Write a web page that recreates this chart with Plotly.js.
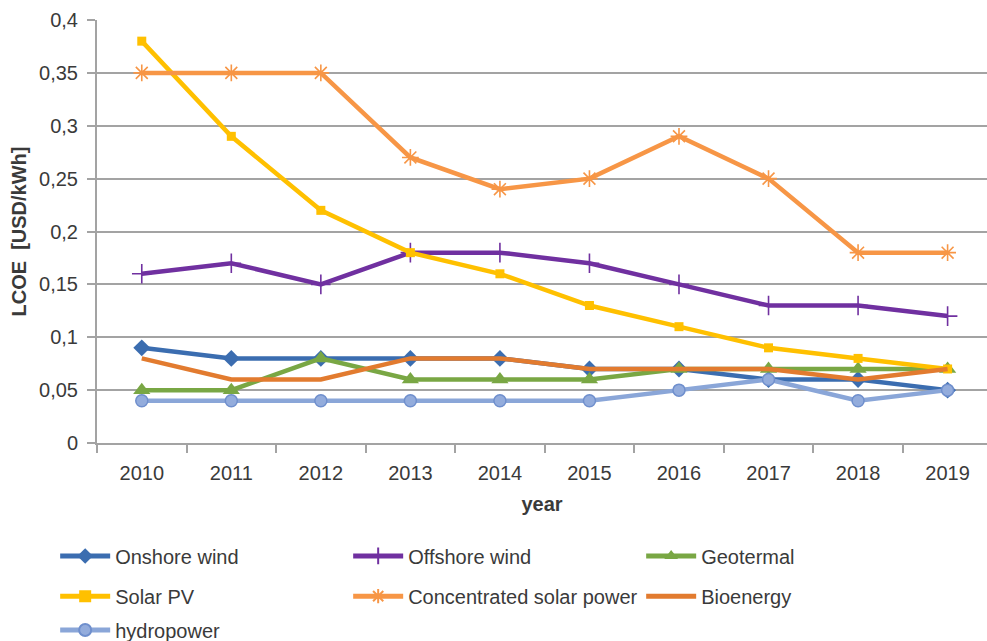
<!DOCTYPE html>
<html>
<head>
<meta charset="utf-8">
<script src="https://cdn.plot.ly/plotly-3.0.1.min.js"></script>
<style>
  html, body { margin: 0; padding: 0; background: #ffffff; }
  #chart { width: 987px; height: 641px; }
</style>
</head>
<body>
<div id="chart"></div>
<script>
// LCOE by technology, 2010-2019
const years = ['2010', '2011', '2012', '2013', '2014', '2015', '2016', '2017', '2018', '2019'];

const onshoreWind   = [0.09, 0.08, 0.08, 0.08, 0.08, 0.07, 0.07, 0.06, 0.06, 0.05];
const offshoreWind  = [0.16, 0.17, 0.15, 0.18, 0.18, 0.17, 0.15, 0.13, 0.13, 0.12];
const geotermal     = [0.05, 0.05, 0.08, 0.06, 0.06, 0.06, 0.07, 0.07, 0.07, 0.07];
const solarPV       = [0.38, 0.29, 0.22, 0.18, 0.16, 0.13, 0.11, 0.09, 0.08, 0.07];
const concSolar     = [0.35, 0.35, 0.35, 0.27, 0.24, 0.25, 0.29, 0.25, 0.18, 0.18];
const bioenergy     = [0.08, 0.06, 0.06, 0.08, 0.08, 0.07, 0.07, 0.07, 0.06, 0.07];
const hydropower    = [0.04, 0.04, 0.04, 0.04, 0.04, 0.04, 0.05, 0.06, 0.04, 0.05];

const yTickVals = [0, 0.05, 0.1, 0.15, 0.2, 0.25, 0.3, 0.35, 0.4];
const yTickText = ['0', '0,05', '0,1', '0,15', '0,2', '0,25', '0,3', '0,35', '0,4'];

const FONT = 'Liberation Sans, Arial, sans-serif';
const TEXT = '#3a3a3a';
const GRID = '#a3a3a3';
const FS = 20;

function series(name, y, color, marker, legend) {
  const t = {
    type: 'scatter', mode: marker ? 'lines+markers' : 'lines',
    name: name, x: years, y: y, legend: legend,
    line: { color: color, width: 4.5 },
    hoverinfo: 'x+y+name'
  };
  if (marker) t.marker = marker;
  return t;
}

const traces = [
  series('Onshore wind', onshoreWind, '#3b6db0',
    { symbol: 'diamond', size: 13, color: '#3b6db0' }, 'legend'),
  series('Offshore wind', offshoreWind, '#7030a0',
    { symbol: 'cross-thin-open', size: 14, line: { color: '#9c3042', width: 1.6 } }, 'legend'),
  series('Geotermal', geotermal, '#79a744',
    { symbol: 'triangle-up', size: 15, color: '#79a744' }, 'legend'),
  series('Solar PV', solarPV, '#ffc000',
    { symbol: 'square', size: 9, color: '#ffc000' }, 'legend2'),
  series('Concentrated solar power', concSolar, '#f79646',
    { symbol: 'asterisk-open', size: 14, line: { color: '#f79646', width: 1.6 } }, 'legend2'),
  series('Bioenergy', bioenergy, '#e27b2f', null, 'legend2'),
  series('hydropower', hydropower, '#8aa6d8',
    { symbol: 'circle', size: 12, color: '#93acdc', line: { color: '#6f8fcd', width: 1.5 } }, 'legend3')
];

function legendRow(yPos) {
  return {
    orientation: 'h', x: -0.047, xanchor: 'left', y: yPos, yanchor: 'middle',
    entrywidth: 228, entrywidthmode: 'pixels', itemwidth: 50,
    itemsizing: 'constant',
    bgcolor: 'rgba(0,0,0,0)', traceorder: 'normal',
    font: { family: FONT, size: FS, color: TEXT }
  };
}

const layout = {
  width: 987, height: 641,
  margin: { l: 97, r: 0, t: 20, b: 198, autoexpand: false },
  paper_bgcolor: '#ffffff', plot_bgcolor: '#ffffff',
  font: { family: FONT, size: FS, color: TEXT },
  showlegend: true,
  xaxis: {
    type: 'category', range: [-0.5, 9.44],
    tickson: 'boundaries', ticks: 'outside', ticklen: 8, tickcolor: GRID, tickwidth: 2,
    ticklabelstandoff: 11,
    showline: true, linecolor: GRID, linewidth: 2,
    showgrid: false, zeroline: false,
    tickfont: { family: FONT, size: FS, color: TEXT },
    title: { text: '<b>year</b>', font: { family: FONT, size: FS, color: TEXT }, standoff: 14 }
  },
  yaxis: {
    range: [0, 0.4], tickvals: yTickVals, ticktext: yTickText,
    ticks: 'outside', ticklen: 8, tickcolor: GRID, tickwidth: 2,
    ticklabelstandoff: 5,
    showline: true, linecolor: GRID, linewidth: 2,
    showgrid: true, gridcolor: GRID, gridwidth: 2, zeroline: false,
    tickfont: { family: FONT, size: FS, color: TEXT },
    title: { text: '<b>LCOE  [USD/kWh]</b>', font: { family: FONT, size: FS, color: TEXT }, standoff: 7 }
  },
  legend: legendRow(-0.267),
  legend2: legendRow(-0.362),
  legend3: legendRow(-0.442)
};

Plotly.newPlot('chart', traces, layout, { displayModeBar: false, staticPlot: true });
</script>
</body>
</html>
